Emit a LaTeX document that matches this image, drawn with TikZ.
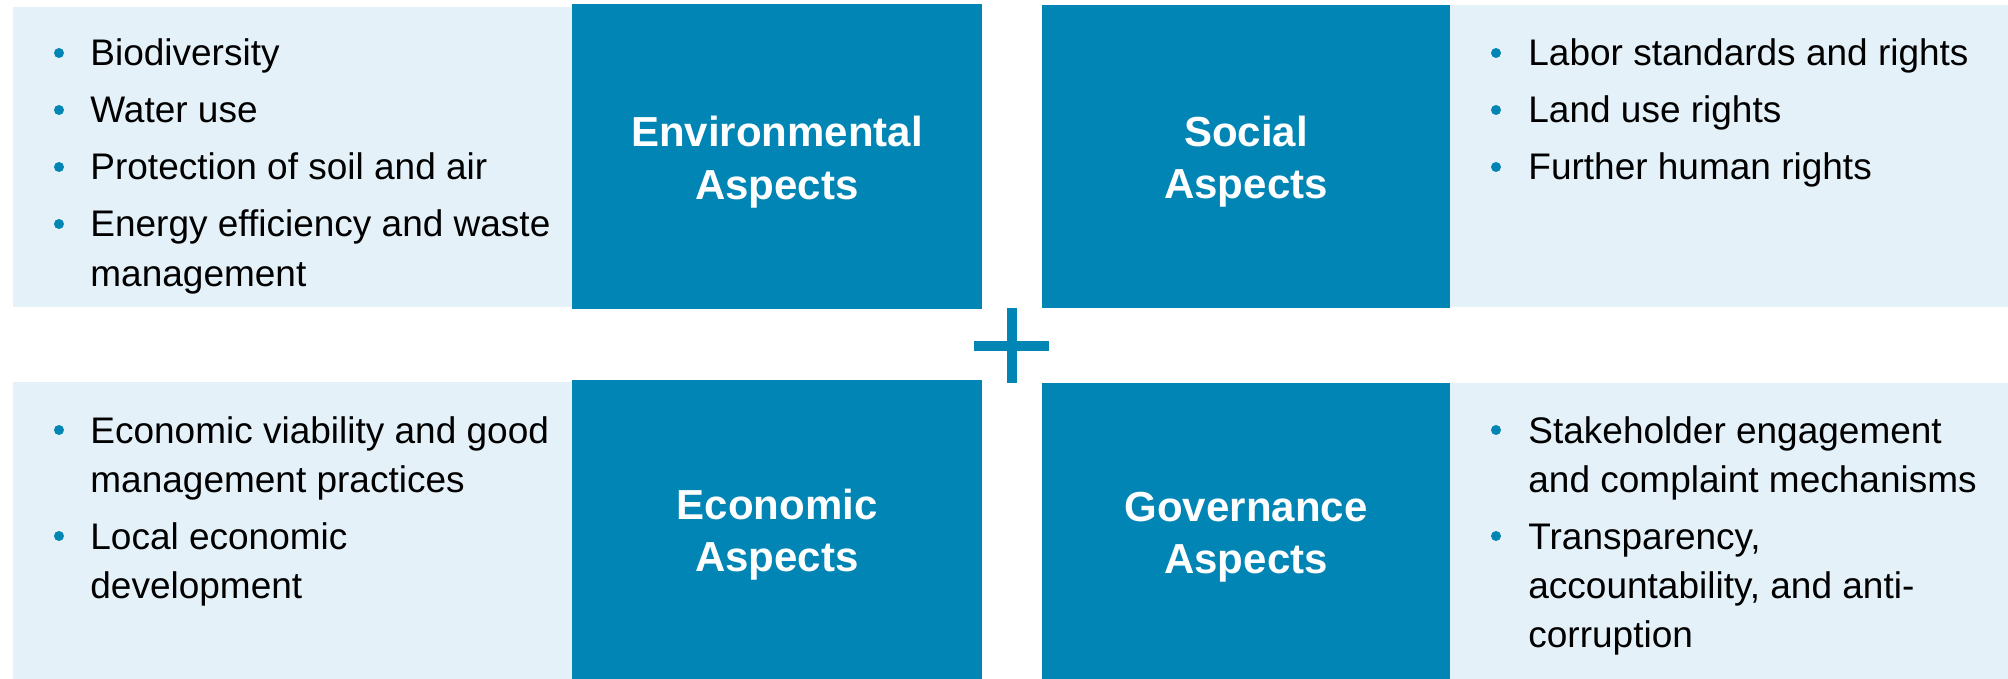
\documentclass[tikz,border=0pt]{standalone}
\usepackage{fontspec}
\setmainfont{Liberation Sans}
\definecolor{darkblue}{RGB}{0,133,181}
\definecolor{lightblue}{RGB}{228,241,248}
\begin{document}
\begin{tikzpicture}[x=0.5pt,y=-0.5pt,
  lightbox/.style={fill=lightblue,draw=none,inner sep=0pt,outer sep=0pt,anchor=north west},
  darkbox/.style={fill=darkblue,draw=none,inner sep=0pt,outer sep=0pt,anchor=north west},
  head/.style={text=white,font=\fontsize{21pt}{26pt}\selectfont\bfseries,inner sep=0pt,anchor=base},
  item/.style={text=black,font=\fontsize{18.5pt}{24pt}\selectfont,inner sep=0pt,anchor=base west},
  dot/.style={circle,fill=darkblue,inner sep=0pt,minimum size=5pt},
  plusbar/.style={fill=darkblue,draw=none}
]
\useasboundingbox (0,0) rectangle (2008,679);
% boxes
\node[lightbox,minimum width=279.5pt,minimum height=150pt] (envlist) at (13,7) {};
\node[darkbox,minimum width=205pt,minimum height=152.5pt] (envbox) at (572,4) {};
\node[darkbox,minimum width=204pt,minimum height=151.5pt] (socbox) at (1042,5) {};
\node[lightbox,minimum width=279pt,minimum height=151pt] (soclist) at (1450,5) {};
\node[lightbox,minimum width=279.5pt,minimum height=148.5pt] (ecolist) at (13,382) {};
\node[darkbox,minimum width=205pt,minimum height=149.5pt] (ecobox) at (572,380) {};
\node[darkbox,minimum width=204pt,minimum height=148pt] (govbox) at (1042,383) {};
\node[lightbox,minimum width=279pt,minimum height=148pt] (govlist) at (1450,383) {};
% plus
\fill[plusbar] (974,341) rectangle (1049,351);
\fill[plusbar] (1007,308) rectangle (1017,383);
% headers
\node[head] (envh1) at (777,147) {Environmental};
\node[head] (envh2) at (777,200) {Aspects};
\node[head] (soch1) at (1246,147) {Social};
\node[head] (soch2) at (1246,199) {Aspects};
\node[head] (ecoh1) at (777,519) {Economic};
\node[head] (ecoh2) at (777,571) {Aspects};
\node[head] (govh1) at (1246,521) {Governance};
\node[head] (govh2) at (1246,573) {Aspects};
% environmental list
\node[dot] (eb1) at (59,53) {};
\node[item] (et1) at (90,66) {Biodiversity};
\node[dot] (eb2) at (59,110) {};
\node[item] (et2) at (90,123) {Water use};
\node[dot] (eb3) at (59,167) {};
\node[item] (et3) at (90,180) {Protection of soil and air};
\node[dot] (eb4) at (59,224) {};
\node[item] (et4) at (90,237) {Energy efficiency and waste};
\node[item] (et5) at (90,286) {management};
% social list
\node[dot] (sb1) at (1496,53) {};
\node[item] (st1) at (1528,66) {Labor standards and rights};
\node[dot] (sb2) at (1496,110) {};
\node[item] (st2) at (1528,123) {Land use rights};
\node[dot] (sb3) at (1496,167) {};
\node[item] (st3) at (1528,180) {Further human rights};
% economic list
\node[dot] (cb1) at (59,430) {};
\node[item] (ct1) at (90,443) {Economic viability and good};
\node[item] (ct2) at (90,492) {management practices};
\node[dot] (cb2) at (59,536) {};
\node[item] (ct3) at (90,549) {Local economic};
\node[item] (ct4) at (90,598) {development};
% governance list
\node[dot] (gb1) at (1496,430) {};
\node[item] (gt1) at (1528,443) {Stakeholder engagement};
\node[item] (gt2) at (1528,492) {and complaint mechanisms};
\node[dot] (gb2) at (1496,536) {};
\node[item] (gt3) at (1528,549) {Transparency,};
\node[item] (gt4) at (1528,598) {accountability, and anti-};
\node[item] (gt5) at (1528,647) {corruption};
\end{tikzpicture}
\end{document}
